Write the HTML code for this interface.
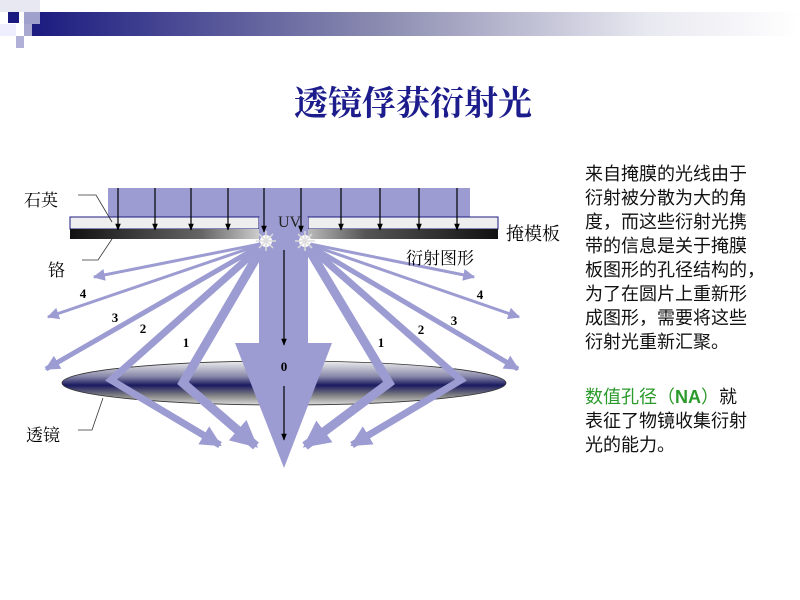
<!DOCTYPE html>
<html><head><meta charset="utf-8"><style>
html,body{margin:0;padding:0;background:#fff;}
body{width:800px;height:600px;position:relative;overflow:hidden;font-family:"Liberation Serif","Noto Serif CJK SC",serif;}
.t{position:absolute;white-space:nowrap;}
</style></head><body>
<div style="position:absolute;left:30px;top:12px;width:770px;height:24px;background:linear-gradient(to right,#1a1a80,#8a8ab0 45%,#e8e8f0 80%,#fff)"></div>
<div style="position:absolute;left:0;top:0;width:40px;height:12px;background:#e8e8f2"></div>
<div style="position:absolute;left:8px;top:12px;width:11px;height:11px;background:#1a1a80"></div>
<div style="position:absolute;left:24px;top:12px;width:16px;height:12px;background:#a0a0cc"></div>
<div style="position:absolute;left:24px;top:24px;width:8px;height:12px;background:#a8a8d0"></div>
<div style="position:absolute;left:16px;top:36px;width:8px;height:12px;background:#b0b0d8"></div>
<div style="position:absolute;left:0;top:24px;width:16px;height:12px;background:#eef"></div>
<div class="t" style="left:0;width:826px;top:76px;text-align:center;font-size:34px;font-weight:bold;color:#1c1c8c;font-family:'Noto Serif CJK SC',serif">透镜俘获衍射光</div>

<svg width="800" height="600" style="position:absolute;left:0;top:0">
<defs>
<linearGradient id="cr" x1="0" x2="1"><stop offset="0" stop-color="#111"/><stop offset="0.7" stop-color="#666"/><stop offset="1" stop-color="#ccc"/></linearGradient>
<linearGradient id="cr2" x1="0" x2="1"><stop offset="0" stop-color="#bbb"/><stop offset="0.3" stop-color="#555"/><stop offset="1" stop-color="#111"/></linearGradient>
<linearGradient id="ln" x1="0" y1="0" x2="0" y2="1"><stop offset="0" stop-color="#eee"/><stop offset="0.35" stop-color="#8888aa"/><stop offset="0.55" stop-color="#1a1a60"/><stop offset="0.8" stop-color="#888"/><stop offset="1" stop-color="#ddd"/></linearGradient>
<marker id="ah" viewBox="0 0 10 10" refX="9" refY="5" markerWidth="4" markerHeight="4" orient="auto" markerUnits="strokeWidth"><path d="M0,0L10,5L0,10Z" fill="#9c9cd2"/></marker>
<marker id="ah2" viewBox="0 0 10 10" refX="9" refY="5" markerWidth="3" markerHeight="3" orient="auto" markerUnits="strokeWidth"><path d="M0,0L10,5L0,10Z" fill="#9c9cd2"/></marker>
<marker id="bk" viewBox="0 0 10 10" refX="9" refY="5" markerWidth="7" markerHeight="7" orient="auto" markerUnits="userSpaceOnUse"><path d="M0,1L10,5L0,9Z" fill="#000"/></marker>
</defs>
<rect x="108" y="188" width="362" height="29" fill="#9c9cd2"/>
<rect x="70" y="217" width="189" height="12" fill="#eee" stroke="#1a1a80"/>
<rect x="308" y="217" width="190" height="12" fill="#eee" stroke="#1a1a80"/>
<rect x="70" y="229" width="189" height="10" fill="url(#cr)"/>
<rect x="308" y="229" width="190" height="10" fill="url(#cr2)"/>
<ellipse cx="284" cy="383" rx="222" ry="22" fill="url(#ln)" stroke="#333" stroke-width="0.8"/>
<rect x="259" y="217" width="49" height="127" fill="#9c9cd2"/>
<polygon points="235,343 332,343 284,468" fill="#9c9cd2"/>
<g stroke="#9c9cd2" fill="none">
<line x1="265" y1="243" x2="94" y2="277" stroke-width="3" marker-end="url(#ah)"/>
<line x1="265" y1="243" x2="48" y2="317" stroke-width="3" marker-end="url(#ah)"/>
<line x1="265" y1="243" x2="46" y2="369" stroke-width="5" marker-end="url(#ah2)"/>
<polyline points="265,243 111,380 220,445" stroke-width="7" marker-end="url(#ah2)"/>
<polyline points="265,243 183,383 256,446" stroke-width="9" marker-end="url(#ah2)"/>
<line x1="305" y1="243" x2="474" y2="277" stroke-width="3" marker-end="url(#ah)"/>
<line x1="305" y1="243" x2="519" y2="317" stroke-width="3" marker-end="url(#ah)"/>
<line x1="305" y1="243" x2="518" y2="369" stroke-width="5" marker-end="url(#ah2)"/>
<polyline points="305,243 461,380 352,445" stroke-width="7" marker-end="url(#ah2)"/>
<polyline points="305,243 389,383 305,446" stroke-width="9" marker-end="url(#ah2)"/>
</g>
<g fill="#fff"><circle cx="266" cy="241" r="6"/><circle cx="305" cy="241" r="6"/></g>
<g stroke="#ddd" stroke-width="1.5"><path d="M256,241h20M266,231v20M259,234l14,14M273,234l-14,14M295,241h20M305,231v20M298,234l14,14M312,234l-14,14"/></g>
<g stroke="#000" stroke-width="1.2">
<line x1="118" y1="188" x2="118" y2="230" marker-end="url(#bk)"/>
<line x1="155" y1="188" x2="155" y2="230" marker-end="url(#bk)"/>
<line x1="191" y1="188" x2="191" y2="230" marker-end="url(#bk)"/>
<line x1="228" y1="188" x2="228" y2="230" marker-end="url(#bk)"/>
<line x1="264" y1="188" x2="264" y2="232" marker-end="url(#bk)"/>
<line x1="301" y1="188" x2="301" y2="232" marker-end="url(#bk)"/>
<line x1="341" y1="188" x2="341" y2="230" marker-end="url(#bk)"/>
<line x1="380" y1="188" x2="380" y2="230" marker-end="url(#bk)"/>
<line x1="419" y1="188" x2="419" y2="230" marker-end="url(#bk)"/>
<line x1="457" y1="188" x2="457" y2="230" marker-end="url(#bk)"/>
<line x1="284" y1="250" x2="284" y2="345" marker-end="url(#bk)"/>
<line x1="284" y1="386" x2="284" y2="440" marker-end="url(#bk)"/>
</g>
<g stroke="#333" fill="none" stroke-width="0.8">
<polyline points="78,195 96,195 112,222"/>
<polyline points="82,260 98,260 112,239"/>
<polyline points="78,430 92,430 103,398"/>
</g>
<g font-family="Liberation Serif" font-weight="bold" font-size="13" fill="#000" text-anchor="middle">
<text x="83" y="298">4</text><text x="115" y="322">3</text><text x="143" y="333">2</text><text x="186" y="347">1</text>
<text x="480" y="299">4</text><text x="454" y="325">3</text><text x="421" y="334">2</text><text x="381" y="347">1</text>
<text x="284" y="371">0</text>
</g>
<text x="278" y="227" font-family="Liberation Serif" font-size="16" fill="#222">UV</text>
</svg>
<div class="t" style="left:24px;top:186px;font-size:17px">石英</div>
<div class="t" style="left:48px;top:256px;font-size:17px">铬</div>
<div class="t" style="left:26px;top:421px;font-size:17px">透镜</div>
<div class="t" style="left:506px;top:220px;font-size:18px">掩模板</div>
<div class="t" style="left:406px;top:244px;font-size:17px">衍射图形</div>
<div class="t" style="left:585px;top:162px;font-size:18px;line-height:24px;font-family:'Liberation Sans','Noto Sans CJK SC',sans-serif;color:#111">来自掩膜的光线由于<br>衍射被分散为大的角<br>度，而这些衍射光携<br>带的信息是关于掩膜<br>板图形的孔径结构的，<br>为了在圆片上重新形<br>成图形，需要将这些<br>衍射光重新汇聚。</div>
<div class="t" style="left:585px;top:385px;font-size:18px;line-height:24px;font-family:'Liberation Sans','Noto Sans CJK SC',sans-serif;color:#111"><span style="color:#2a9a2a">数值孔径（<b>NA</b>）</span>就<br>表征了物镜收集衍射<br>光的能力。</div>
</body></html>
